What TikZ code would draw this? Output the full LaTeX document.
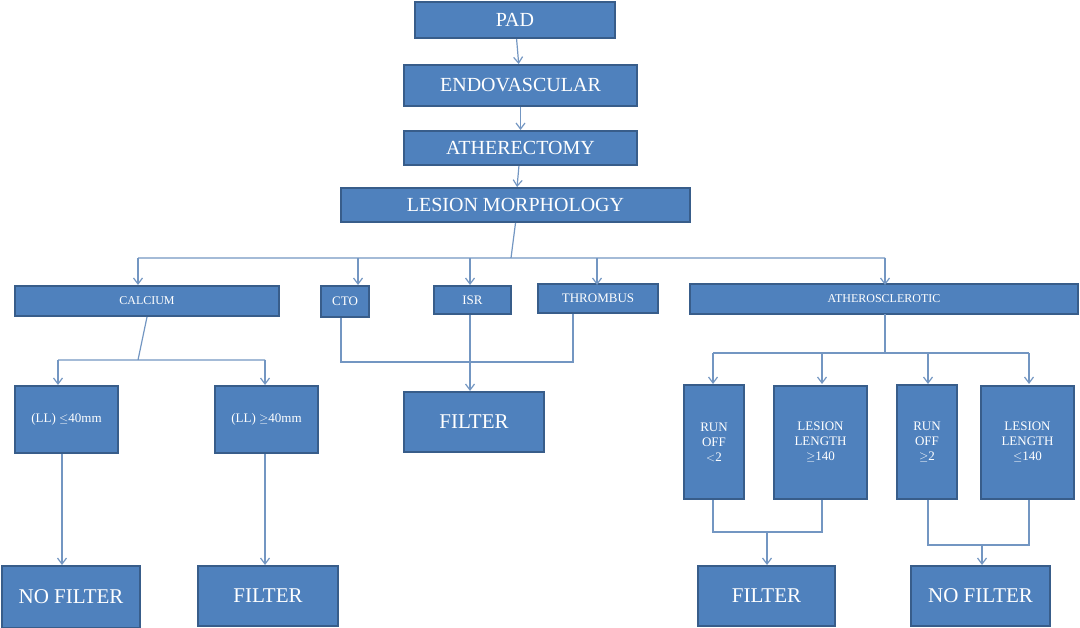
\documentclass[tikz,border=0pt]{standalone}
\usepackage{fontspec}
\setmainfont{Liberation Serif}
\begin{document}
\begin{tikzpicture}[x=1pt,y=-1pt,
 bx/.style={draw=boxb,line width=2pt,fill=boxf,text=white,inner sep=0pt,align=center},
 ln/.style={draw=lnc,line width=1.2pt},
 ar/.style={ln,-{Straight Barb[length=6pt,width=9pt]}}]
\usetikzlibrary{arrows.meta}
\definecolor{boxf}{HTML}{4F81BD}
\definecolor{boxb}{HTML}{385D8A}
\definecolor{lnc}{HTML}{7396C2}
\useasboundingbox (0,0) rectangle (1080,628);
\newcommand{\bb}[6]{\node[bx,minimum width={#4-#2},minimum height={#5-#3},font=\fontsize{#6}{#6}\selectfont] (#1) at ({(#2+#4)/2},{(#3+#5)/2})}
\bb{pad}{415}{2}{615}{38}{20}{PAD};
\bb{endo}{404}{65}{637}{106}{20}{ENDOVASCULAR};
\bb{ath}{404}{131}{637}{165}{20}{ATHERECTOMY};
\bb{les}{341}{188}{690}{222}{20}{LESION MORPHOLOGY};
\bb{cal}{15}{286}{279}{316}{12}{CALCIUM};
\bb{cto}{321}{286}{369}{317}{13}{CTO};
\bb{isr}{434}{286}{511}{314}{13}{ISR};
\bb{thr}{538}{284}{658}{313}{13}{THROMBUS};
\bb{atс}{690}{284}{1078}{314}{12}{ATHEROSCLEROTIC};
\bb{lla}{15}{386}{118}{453}{13}{(LL) $\le$40mm};
\bb{llb}{215}{386}{318}{453}{13}{(LL) $\ge$40mm};
\bb{fm}{404}{392}{544}{452}{21}{FILTER};
\bb{r1}{684}{385}{744}{499}{13}{RUN\\[2pt]OFF\\[2pt]$<$2};
\bb{l1}{774}{386}{867}{499}{13}{LESION\\[2pt]LENGTH\\[2pt]$\ge$140};
\bb{r2}{897}{385}{957}{499}{13}{RUN\\[2pt]OFF\\[2pt]$\ge$2};
\bb{l2}{981}{386}{1074}{499}{13}{LESION\\[2pt]LENGTH\\[2pt]$\le$140};
\bb{nf1}{2}{566}{140}{628}{21}{NO FILTER};
\bb{f1}{198}{566}{338}{626}{21}{FILTER};
\bb{f2}{698}{566}{835}{626}{21}{FILTER};
\bb{nf2}{911}{566}{1050}{626}{21}{NO FILTER};
\coordinate (ac) at (885,314);
\draw[ar] (pad) -- (endo);
\draw[ar] (endo) -- (ath);
\draw[ar] (ath) -- (les);
\draw[ln] (les.south) -- (511,258) (138,258) -- (885,258);
\foreach \x/\n in {138/cal,358/cto,470/isr,597/thr,885/atс}
  \draw[ar] (\x,258) -- (\x,285);
\draw[ln] (cal.south) -- (138,360) (58,360) -- (265,360);
\draw[ar] (58,360) -- (58,385);
\draw[ar] (265,360) -- (265,385);
\draw[ar] (62,454) -- (nf1.north -| 62,0);
\draw[ar] (265,454) -- (265,565);
\draw[ln] (341,318) |- (573,362) -- (573,314);
\draw[ar] (isr.south -| 470,0) -- (470,391);
\draw[ln] (ac) -- (885,353) (713,353) -- (1029,353);
\foreach \x in {713,822,928,1029} \draw[ar] (\x,353) -- (\x,384);
\draw[ln] (713,500) |- (822,532) -- (822,500);
\draw[ar] (767,532) -- (767,565);
\draw[ln] (928,500) |- (1029,545) -- (1029,500);
\draw[ar] (982,545) -- (982,565);
\end{tikzpicture}
\end{document}
